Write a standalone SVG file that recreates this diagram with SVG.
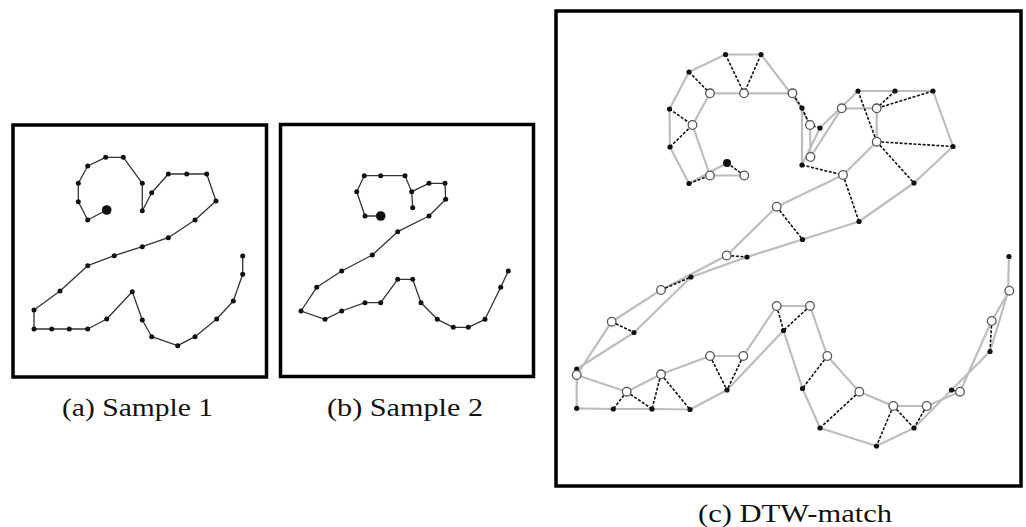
<svg xmlns="http://www.w3.org/2000/svg" width="1026" height="527" viewBox="0 0 1026 527">
<style>
.frame{fill:none;stroke:#000;stroke-width:3.5}
.trace{fill:none;stroke:#333;stroke-width:1.3;stroke-linejoin:round}
.dot{fill:#111}
.grey{fill:none;stroke:#bdbdbd;stroke-width:2.2;stroke-linejoin:round}
.match{stroke:#111;stroke-width:1.6;stroke-dasharray:3 1.6}
.open{fill:#fff;stroke:#555;stroke-width:1.3}
.cap{font-family:"Liberation Serif","Times New Roman",serif;font-size:26px;fill:#111}
</style>
<rect width="1026" height="527" fill="#fff"/>

<g id="panel-a">
<rect class="frame" x="13" y="125" width="253.5" height="252"/>
<polyline class="trace" points="106.7,210 87.7,220 78.3,201.7 78.3,183.3 87.7,166 105.7,157.3 123.3,157.3 142.3,183.3 142.3,210.7 151.7,192.7 168.3,174 186.7,174 206.7,174 216,201 195,220 168.3,237.7 142.3,246.7 114.3,255.7 87.7,265.7 60,291 34,310 34,329 51.7,329 69.3,329 87.7,329 106.7,319 132.3,291.7 142.3,320 151.7,336.7 177.7,345.7 195,336.7 216.7,319 233.3,301 242.7,274.3 242.7,256"/>
<g class="dot">
<circle cx="106.7" cy="210" r="4.8"/>
<circle cx="87.7" cy="220" r="2.5"/><circle cx="78.3" cy="201.7" r="2.5"/><circle cx="78.3" cy="183.3" r="2.5"/><circle cx="87.7" cy="166" r="2.5"/><circle cx="105.7" cy="157.3" r="2.5"/><circle cx="123.3" cy="157.3" r="2.5"/><circle cx="142.3" cy="183.3" r="2.5"/><circle cx="142.3" cy="210.7" r="2.5"/><circle cx="151.7" cy="192.7" r="2.5"/><circle cx="168.3" cy="174" r="2.5"/><circle cx="186.7" cy="174" r="2.5"/><circle cx="206.7" cy="174" r="2.5"/><circle cx="216" cy="201" r="2.5"/><circle cx="195" cy="220" r="2.5"/><circle cx="168.3" cy="237.7" r="2.5"/><circle cx="142.3" cy="246.7" r="2.5"/><circle cx="114.3" cy="255.7" r="2.5"/><circle cx="87.7" cy="265.7" r="2.5"/><circle cx="60" cy="291" r="2.5"/><circle cx="34" cy="310" r="2.5"/><circle cx="34" cy="329" r="2.5"/><circle cx="51.7" cy="329" r="2.5"/><circle cx="69.3" cy="329" r="2.5"/><circle cx="87.7" cy="329" r="2.5"/><circle cx="106.7" cy="319" r="2.5"/><circle cx="132.3" cy="291.7" r="2.5"/><circle cx="142.3" cy="320" r="2.5"/><circle cx="151.7" cy="336.7" r="2.5"/><circle cx="177.7" cy="345.7" r="2.5"/><circle cx="195" cy="336.7" r="2.5"/><circle cx="216.7" cy="319" r="2.5"/><circle cx="233.3" cy="301" r="2.5"/><circle cx="242.7" cy="274.3" r="2.5"/><circle cx="242.7" cy="256" r="2.5"/>
</g>
<text class="cap" x="62" y="416" textLength="151" lengthAdjust="spacingAndGlyphs">(a) Sample 1</text>
</g>

<g id="panel-b">
<rect class="frame" x="280.5" y="124.5" width="253" height="252"/>
<polyline class="trace" points="380.7,216 365,216 356.7,191.7 364.3,175.7 380.7,175.7 405,175.7 411.7,191.7 412.7,207.7 411.7,191.7 429,183.3 445,183.3 445.7,199.3 429,216 397.7,231.7 372.3,255 341.7,271 316.7,287.3 301,311 325,319.3 341.7,311 365,302.7 380.7,302.7 397.7,279.3 412.7,279.3 421,302.7 437.3,319.3 453.3,327.3 468.3,327.3 485,319.3 500.7,287.3 508.3,271"/>
<g class="dot">
<circle cx="380.7" cy="216" r="4.8"/>
<circle cx="365" cy="216" r="2.5"/><circle cx="356.7" cy="191.7" r="2.5"/><circle cx="364.3" cy="175.7" r="2.5"/><circle cx="380.7" cy="175.7" r="2.5"/><circle cx="405" cy="175.7" r="2.5"/><circle cx="411.7" cy="191.7" r="2.5"/><circle cx="412.7" cy="207.7" r="2.5"/><circle cx="429" cy="183.3" r="2.5"/><circle cx="445" cy="183.3" r="2.5"/><circle cx="445.7" cy="199.3" r="2.5"/><circle cx="429" cy="216" r="2.5"/><circle cx="397.7" cy="231.7" r="2.5"/><circle cx="372.3" cy="255" r="2.5"/><circle cx="341.7" cy="271" r="2.5"/><circle cx="316.7" cy="287.3" r="2.5"/><circle cx="301" cy="311" r="2.5"/><circle cx="325" cy="319.3" r="2.5"/><circle cx="341.7" cy="311" r="2.5"/><circle cx="365" cy="302.7" r="2.5"/><circle cx="380.7" cy="302.7" r="2.5"/><circle cx="397.7" cy="279.3" r="2.5"/><circle cx="412.7" cy="279.3" r="2.5"/><circle cx="421" cy="302.7" r="2.5"/><circle cx="437.3" cy="319.3" r="2.5"/><circle cx="453.3" cy="327.3" r="2.5"/><circle cx="468.3" cy="327.3" r="2.5"/><circle cx="485" cy="319.3" r="2.5"/><circle cx="500.7" cy="287.3" r="2.5"/><circle cx="508.3" cy="271" r="2.5"/>
</g>
<text class="cap" x="327" y="416" textLength="156" lengthAdjust="spacingAndGlyphs">(b) Sample 2</text>
</g>

<g id="panel-c">
<rect class="frame" x="556" y="11" width="465" height="475"/>
<g id="connectors">
<polyline class="grey" points="727,163 689,183.5 670,147 669.5,109 689,72 725.5,54.5 761,54.5 802,108 802,165 820,128 858,91 895,91 933,91 953,146.5 914,183 859,221.5 802.5,239.5 747,257 691,277 634,332.5 576.7,369 576.7,408.3 613.3,409 652,409 690,409.5 727,390 783.5,330.5 802.5,388.5 820,428 876.5,446 914,428 951.5,390 990,351.5 1008,292 1009,256.5"/>
<polyline class="grey" points="744.3,175.5 710,175.5 692.5,125 710,93.3 744,93.3 792.5,93.3 810,125 810.5,157 841.7,108.3 876.7,108.3 876.7,141.7 843,175 776.7,206.7 726.7,255.5 661,290 611.7,321.7 576.7,375 626.7,391.7 661,374.3 710,356 743.3,356 776.7,306 810,306 827.3,356 859.3,391.7 893.3,406 926.7,406 960,391.7 991.7,321 1009.3,290.7"/>
<g class="match">
<line x1="727" y1="163" x2="744.3" y2="175.5"/>
<line x1="689" y1="183.5" x2="710" y2="175.5"/>
<line x1="670" y1="147" x2="692.5" y2="125"/>
<line x1="669.5" y1="109" x2="692.5" y2="125"/>
<line x1="689" y1="72" x2="710" y2="93.3"/>
<line x1="725.5" y1="54.5" x2="744" y2="93.3"/>
<line x1="761" y1="54.5" x2="744" y2="93.3"/>
<line x1="802" y1="108" x2="792.5" y2="93.3"/>
<line x1="802" y1="108" x2="810" y2="125"/>
<line x1="820" y1="128" x2="810" y2="125"/>
<line x1="802" y1="165" x2="843" y2="175"/>
<line x1="858" y1="91" x2="876.7" y2="141.7"/>
<line x1="895" y1="91" x2="876.7" y2="108.3"/>
<line x1="933" y1="91" x2="876.7" y2="108.3"/>
<line x1="876.7" y1="141.7" x2="953" y2="146.5"/>
<line x1="876.7" y1="141.7" x2="914" y2="183"/>
<line x1="843" y1="175" x2="859" y2="221.5"/>
<line x1="776.7" y1="206.7" x2="802.5" y2="239.5"/>
<line x1="726.7" y1="255.5" x2="747" y2="257"/>
<line x1="661" y1="290" x2="691" y2="277"/>
<line x1="611.7" y1="321.7" x2="634" y2="332.5"/>
<line x1="626.7" y1="391.7" x2="613.3" y2="409"/>
<line x1="626.7" y1="391.7" x2="652" y2="409"/>
<line x1="661" y1="374.3" x2="652" y2="409"/>
<line x1="661" y1="374.3" x2="690" y2="409.5"/>
<line x1="710" y1="356" x2="727" y2="390"/>
<line x1="743.3" y1="356" x2="727" y2="390"/>
<line x1="776.7" y1="306" x2="783.5" y2="330.5"/>
<line x1="810" y1="306" x2="783.5" y2="330.5"/>
<line x1="827.3" y1="356" x2="802.5" y2="388.5"/>
<line x1="859.3" y1="391.7" x2="820" y2="428"/>
<line x1="893.3" y1="406" x2="876.5" y2="446"/>
<line x1="893.3" y1="406" x2="914" y2="428"/>
<line x1="926.7" y1="406" x2="914" y2="428"/>
<line x1="960" y1="391.7" x2="951.5" y2="390"/>
<line x1="991.7" y1="321" x2="990" y2="351.5"/>
</g>
</g>
<g id="sample1-points" class="dot">
<circle cx="727" cy="163" r="4"/>
<circle cx="689" cy="183.5" r="2.6"/><circle cx="670" cy="147" r="2.6"/><circle cx="669.5" cy="109" r="2.6"/><circle cx="689" cy="72" r="2.6"/><circle cx="725.5" cy="54.5" r="2.6"/><circle cx="761" cy="54.5" r="2.6"/><circle cx="802" cy="108" r="2.6"/><circle cx="802" cy="165" r="2.6"/><circle cx="820" cy="128" r="2.6"/><circle cx="858" cy="91" r="2.6"/><circle cx="895" cy="91" r="2.6"/><circle cx="933" cy="91" r="2.6"/><circle cx="953" cy="146.5" r="2.6"/><circle cx="914" cy="183" r="2.6"/><circle cx="859" cy="221.5" r="2.6"/><circle cx="802.5" cy="239.5" r="2.6"/><circle cx="747" cy="257" r="2.6"/><circle cx="691" cy="277" r="2.6"/><circle cx="634" cy="332.5" r="2.6"/><circle cx="576.7" cy="369" r="2.6"/><circle cx="576.7" cy="408.3" r="2.6"/><circle cx="613.3" cy="409" r="2.6"/><circle cx="652" cy="409" r="2.6"/><circle cx="690" cy="409.5" r="2.6"/><circle cx="727" cy="390" r="2.6"/><circle cx="783.5" cy="330.5" r="2.6"/><circle cx="802.5" cy="388.5" r="2.6"/><circle cx="820" cy="428" r="2.6"/><circle cx="876.5" cy="446" r="2.6"/><circle cx="914" cy="428" r="2.6"/><circle cx="951.5" cy="390" r="2.6"/><circle cx="990" cy="351.5" r="2.6"/><circle cx="1008" cy="292" r="2.6"/><circle cx="1009" cy="256.5" r="2.6"/>
</g>
<g id="sample2-points" class="open">
<circle cx="744.3" cy="175.5" r="4.3"/><circle cx="710" cy="175.5" r="4.3"/><circle cx="692.5" cy="125" r="4.3"/><circle cx="710" cy="93.3" r="4.3"/><circle cx="744" cy="93.3" r="4.3"/><circle cx="792.5" cy="93.3" r="4.3"/><circle cx="810" cy="125" r="4.3"/><circle cx="810.5" cy="157" r="4.3"/><circle cx="841.7" cy="108.3" r="4.3"/><circle cx="876.7" cy="108.3" r="4.3"/><circle cx="876.7" cy="141.7" r="4.3"/><circle cx="843" cy="175" r="4.3"/><circle cx="776.7" cy="206.7" r="4.3"/><circle cx="726.7" cy="255.5" r="4.3"/><circle cx="661" cy="290" r="4.3"/><circle cx="611.7" cy="321.7" r="4.3"/><circle cx="576.7" cy="375" r="4.3"/><circle cx="626.7" cy="391.7" r="4.3"/><circle cx="661" cy="374.3" r="4.3"/><circle cx="710" cy="356" r="4.3"/><circle cx="743.3" cy="356" r="4.3"/><circle cx="776.7" cy="306" r="4.3"/><circle cx="810" cy="306" r="4.3"/><circle cx="827.3" cy="356" r="4.3"/><circle cx="859.3" cy="391.7" r="4.3"/><circle cx="893.3" cy="406" r="4.3"/><circle cx="926.7" cy="406" r="4.3"/><circle cx="960" cy="391.7" r="4.3"/><circle cx="991.7" cy="321" r="4.3"/><circle cx="1009.3" cy="290.7" r="4.3"/>
</g>
<text class="cap" x="698" y="522" textLength="194" lengthAdjust="spacingAndGlyphs">(c) DTW-match</text>
</g>
</svg>
